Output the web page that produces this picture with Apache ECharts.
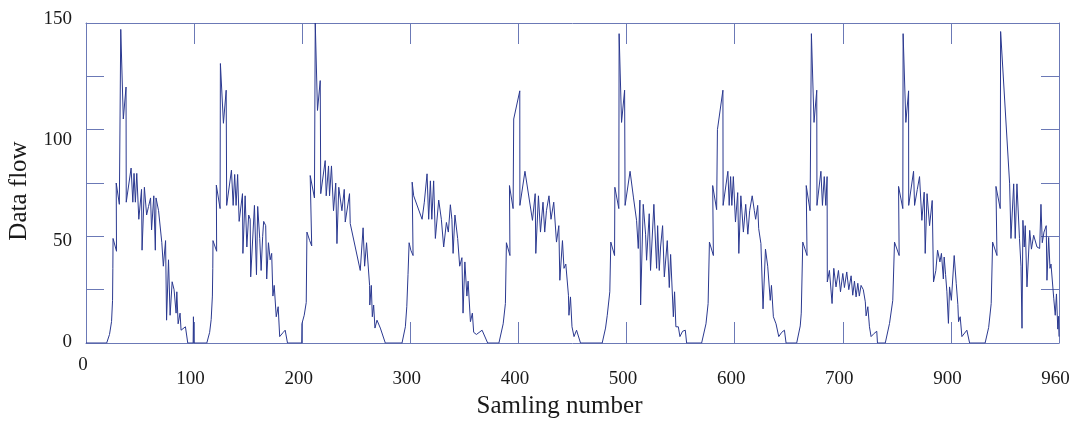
<!DOCTYPE html>
<html>
<head>
<meta charset="utf-8">
<script src="https://cdn.jsdelivr.net/npm/echarts@6/dist/echarts.min.js"></script>
<style>html,body{margin:0;padding:0;background:#fff}#c{width:1076px;height:421px}</style>
</head>
<body>
<div id="c"></div>
<script>
// Tick labels as printed in the original (bottom axis)
const TICK_LABELS = ['0','100','200','300','400','500','600','700','900','960'];
const X_MAX = 960;
const Y_MAX = 150;
const Y_STEP = 25;
const Y_LABELS = [0, 50, 100, 150];

// [sample number, data flow] vertices, one array per burst
const cycle1 = [[20.4,0],[23.2,4],[25.2,10],[26.2,20],[26.5,35],[26.7,49],[30.1,43],[29.8,75],[32.9,65],[34.3,147],[36.8,105],[39.5,120],[39.7,66],[44.5,82],[46.2,66],[47.4,79.5],[48.7,66],[50.1,79.5],[52.1,58],[54.8,72],[55.3,43.5],[57.6,73],[59.8,60],[61.7,64],[63.7,68],[64.7,53],[66.9,69],[68.4,43.5],[69.1,68],[71.6,62],[74.8,47],[76.3,36],[78.5,48],[79.5,10.7],[81.4,39],[83,13],[85,28.7],[86.9,25],[88.9,14],[89.6,24],[90.9,9],[92.8,14],[93.8,6],[98.1,7.6],[100.4,0],[105.7,0],[106,12.3],[106.3,0]];
const cycle2 = [[119.2,0],[122,5],[123.5,11],[124.7,22],[125.1,35],[125.3,48],[128.9,43],[128.6,74],[132.3,63],[132.6,131],[135.6,103],[138.3,118.5],[138.8,64.5],[143.5,81],[145.2,64.5],[146.7,79],[148.1,64.5],[149.6,79],[151.1,57],[154.4,70],[154.8,42],[157,69],[158.7,45],[160.5,60],[162,58],[162.5,31],[166.2,64.5],[168.2,32],[169.4,64],[171.4,49],[172.8,34],[174.3,50],[175.3,57],[177.3,55],[178.3,30],[180,47],[181.7,39],[183.2,42],[184.4,22],[185.7,27],[187.7,12.3],[189.6,17],[191.1,3],[194.6,5],[196.5,6],[198.8,0]];
const cycle3 = [[212.8,0],[213,9],[215.3,13],[217.3,19],[218,52],[220.7,48],[222.7,45.5],[221.2,78.5],[225.4,68],[226.2,150],[228.4,109],[231.1,123],[231.6,70],[236,85.5],[237,69],[239.3,83],[240.3,69],[242.2,83],[244.2,62],[246.4,75],[247.6,46.6],[249.4,73],[252.5,62],[254.8,72],[255.8,56.7],[260,70],[260.7,56],[270.6,34],[273.4,54],[274.9,36],[276.8,47],[279.8,27],[280,17.8],[281.5,27],[282.5,12.3],[283.8,17.8],[285.1,7],[287.1,10.7],[290.4,7],[295.3,0]];
const cycle4 = [[311.8,0],[315.1,7.6],[316.5,17],[317.7,32],[318.8,47],[320.5,43.5],[322.7,41],[321.8,75.4],[323.3,69],[331.6,58],[333.8,66],[336.5,79.3],[338.1,58],[339.8,76],[341.2,58],[343,76],[344.7,49],[348,67],[350.6,58],[352.9,45],[355.6,56.5],[357.5,52],[359.5,64.8],[361,58],[362.2,42],[364,60],[365.4,60],[366.7,49],[368.7,36],[370.9,40],[372,14],[373.8,38],[375.8,22],[377,29],[379.3,10],[381.2,14],[382.5,5],[385.2,4],[390.8,6],[396.3,0]];
const cycle5 = [[407.4,0],[411.6,9],[413.8,18.5],[414.8,47],[418.3,41],[417.8,73.8],[421.4,63],[422,105],[428,118.2],[428.1,64.5],[433.1,80.5],[440.5,57.5],[443.2,70],[443.8,42],[446.4,69],[448.4,52],[450.9,66],[452.6,52],[454.3,62],[456.8,69],[458.8,58],[461.5,66],[464.2,47.3],[466.5,55],[467.5,29.4],[470.1,48],[471.6,35],[473.4,37],[476,22.4],[476.5,13],[478,21.6],[479.5,7.6],[481.5,3],[484,6],[487.9,0]];
const cycle6 = [[509.3,0],[512.6,7],[514.3,13],[516.8,24],[517.8,47.3],[521.5,41],[521.8,73],[525.7,63],[526,145],[528.4,103.4],[531.4,118.5],[531.9,64.5],[536.8,80.5],[540.2,68],[543.2,57.5],[544.9,44.3],[546.5,67],[547.2,17.8],[549.8,65],[552.1,51],[553.1,38.8],[555.7,60.6],[557,34],[560.3,65],[563,35],[564,55],[565.6,34],[566.9,45],[568.9,55],[570.6,31],[573.5,48],[575.5,26],[576.8,41.5],[579.5,12.3],[580.7,24],[582,7.6],[584.4,7.6],[586,3],[588.6,5.5],[591.3,6],[592.6,0]];
const cycle7 = [[607.4,0],[611.7,9],[613.8,18.5],[615.1,47.3],[619,41],[618.3,73.8],[622.2,62.5],[623,100],[628.4,118.5],[628.6,64.5],[633.3,80.5],[634.6,64.5],[636,78],[637.2,64.5],[638.7,78],[640.8,56.7],[643,70.5],[644.1,42],[646.1,69],[648.6,52],[650.9,65],[653,51],[654.8,62],[657.3,69],[659.4,62],[660.7,58],[662.7,64.5],[663.7,53.6],[665.9,46.6],[668,16],[670.4,44],[672.6,36],[675.1,20],[676.3,27],[678.2,12.3],[680.8,9],[683.5,3],[686.4,5],[689.1,6],[690.7,0]];
const cycle8 = [[701.2,0],[704.7,8],[705.7,14],[707.2,47.3],[711.4,41],[710.6,73.8],[714.4,62],[715.7,145],[718.3,103.4],[721,118.5],[721.2,64.5],[725.1,80.5],[726.6,64.5],[728.4,78],[729.9,64.5],[731.2,78],[731.4,28.6],[733.5,34],[736.1,18.5],[737.8,35],[740,26.3],[742.4,34],[744.4,24],[746.7,32.6],[748.3,26],[750.6,33.3],[752.6,25],[754.9,31.5],[756.5,22.4],[758.2,29],[759.8,21.6],[761.5,28],[763,22],[764.7,27],[766.9,25],[768.9,19.3],[769.7,12.7],[771.4,17],[773,7.6],[774.6,3],[777.6,4.5],[780.2,5.5],[780.9,0]];
const cycle9 = [[788.6,0],[792.8,9.2],[796,20],[797.7,47.3],[802.3,41],[801.7,73.4],[805.9,63],[806.2,145],[808.9,103.4],[811.6,118.2],[811.7,64.5],[816.5,80.5],[817.5,64.5],[820.2,72],[822.4,78],[824.7,57.5],[827,70.7],[828,42],[829.8,70],[832.3,55],[834.9,66.8],[836.2,28.6],[838.5,34],[840.2,43.5],[842.5,38],[844,42],[845.9,30],[846.7,40.3],[848.1,32],[849.4,24],[850.9,9.2],[852,26.3],[853.8,20],[856.6,41],[858.6,28],[860.2,18],[860.9,10],[862.5,12.3],[864.2,3],[869.1,6],[871.8,0]];
const cycle10 = [[887.1,0],[890.6,7.3],[893.1,18.5],[894.5,47.3],[898.8,41],[897.8,73.4],[902,63],[902.4,146],[911.3,74.6],[912.6,49],[915.3,74.6],[916.8,49],[918.5,74.6],[921,49],[922.5,36],[923.5,6.9],[924.4,57.5],[925.7,45],[926.7,55],[928.4,26.3],[931.1,52.8],[932.8,44],[935,50.5],[938.3,45],[940.9,44.3],[942.2,65],[943.5,47],[945.2,52],[947.4,55],[948.1,29.4],[949.8,49.5],[951.1,35],[952.1,37],[954.8,21],[956.3,13],[957.5,23],[958.8,6.5],[959.5,12.5],[960,3]];

const series = [[0,0]].concat(cycle1, cycle2, cycle3, cycle4, cycle5, cycle6, cycle7, cycle8, cycle9, cycle10);

const AX = '#6b79b6';
const LINE = '#2b3990';
const FONT = "'Liberation Serif', 'DejaVu Serif', serif";
const TXT = '#1a1a1a';
const xStep = X_MAX / (TICK_LABELS.length - 1);
const xTicks = TICK_LABELS.map((_, i) => i * xStep);

const lab = (extra) => Object.assign({fontFamily: FONT, fontSize: 19, color: TXT}, extra);
const axLine = {show: true, onZero: false, lineStyle: {color: AX, width: 1}};

const chart = echarts.init(document.getElementById('c'), null, {renderer: 'canvas'});
chart.setOption({
  animation: false,
  backgroundColor: '#fff',
  grid: {left: 86, right: 17, top: 23, bottom: 78, containLabel: false, outerBoundsMode: 'none'},
  xAxis: [{
    type: 'value', min: 0, max: X_MAX, position: 'bottom',
    axisLine: axLine,
    axisTick: {show: true, inside: true, length: 21, customValues: xTicks, lineStyle: {color: AX, width: 1}},
    axisLabel: {
      customValues: xTicks, margin: 13,
      fontFamily: FONT, fontSize: 19, color: TXT,
      formatter: v => {
        const i = Math.round(v / xStep);
        return i === 0 ? '{z|' + TICK_LABELS[0] + '}' : '{n|' + TICK_LABELS[i] + '}';
      },
      rich: {z: lab({padding: [0, 6, 0, 0]}), n: lab({padding: [14, 7, 0, 0]})}
    },
    splitLine: {show: false},
    name: 'Samling number', nameLocation: 'middle', nameGap: 47,
    nameTextStyle: {fontFamily: FONT, fontSize: 25, color: TXT, padding: [0, 26, 0, 0]}
  }, {
    type: 'value', min: 0, max: X_MAX, position: 'top',
    axisLine: axLine,
    axisTick: {show: true, inside: true, length: 21, customValues: xTicks, lineStyle: {color: AX, width: 1}},
    axisLabel: {show: false}, splitLine: {show: false}
  }],
  yAxis: [{
    type: 'value', min: 0, max: Y_MAX, interval: Y_STEP, position: 'left',
    axisLine: axLine,
    axisTick: {show: true, inside: true, length: 18, lineStyle: {color: AX, width: 1}},
    axisLabel: {
      margin: 14, fontFamily: FONT, fontSize: 19, color: TXT,
      formatter: v => Y_LABELS.indexOf(v) >= 0 ? '{y' + v + '|' + v + '}' : '',
      rich: {
        y0: lab({padding: [0, 0, 2, 0]}),
        y50: lab({padding: [10, 0, 0, 0]}),
        y100: lab({padding: [20, 0, 0, 0]}),
        y150: lab({padding: [0, 0, 8, 0]})
      }
    },
    splitLine: {show: false},
    name: 'Data flow', nameLocation: 'middle', nameGap: 54,
    nameTextStyle: {fontFamily: FONT, fontSize: 25, color: TXT, padding: [0, 16, 0, 0]}
  }, {
    type: 'value', min: 0, max: Y_MAX, interval: Y_STEP, position: 'right',
    axisLine: axLine,
    axisTick: {show: true, inside: true, length: 18, lineStyle: {color: AX, width: 1}},
    axisLabel: {show: false}, splitLine: {show: false}
  }],
  series: [{
    type: 'line', xAxisIndex: 0, yAxisIndex: 0,
    data: series, showSymbol: false, symbol: 'none',
    lineStyle: {color: LINE, width: 1}, clip: true
  }]
});
</script>
</body>
</html>
